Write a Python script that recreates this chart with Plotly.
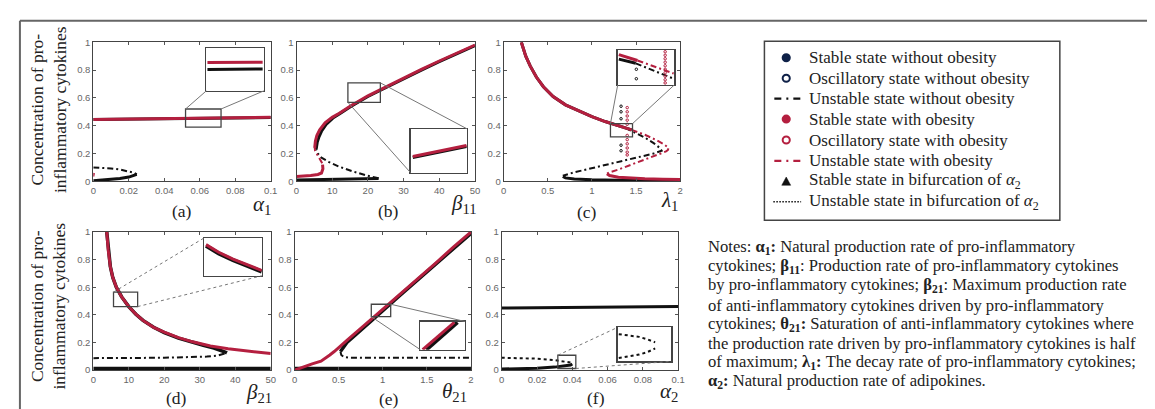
import plotly.graph_objects as go

W, H = 1155, 409
def px(x): return x / W
def py(y): return 1 - y / H

RED = '#b41f3f'
BLK = '#111111'
NAVY = '#0f2148'
SERIF = 'Liberation Serif'
SANS = 'Liberation Sans'
DASHDOT = '6px,3px,2px,3px'

# ---------------- data ----------------
# (a) alpha_1
a_x_full = [0, 0.02, 0.04, 0.06, 0.08, 0.1]
a_red_stable = [0.445, 0.448, 0.451, 0.454, 0.457, 0.46]
a_blk_stable_hi = [0.444, 0.447, 0.450, 0.453, 0.456, 0.459]
a_x_fold = [0, 0.005, 0.01, 0.015, 0.02, 0.023, 0.0245]
a_blk_stable_lo = [0.004, 0.008, 0.014, 0.021, 0.031, 0.04, 0.05]
a_blk_unstable = [0.1, 0.098, 0.093, 0.085, 0.073, 0.062, 0.05]
a_red_unst_x = [0, 0.0004]
a_red_unst_y = [0.035, 0.06]

# (b) beta_11
b_red_lo_x = [0, 2, 4, 6, 7, 7.4, 7.3]
b_red_lo_y = [0.035, 0.038, 0.042, 0.05, 0.06, 0.09, 0.12]
b_red_un_x = [7.2, 6.5, 6.0, 5.5, 5.2, 5.1]
b_red_un_y = [0.13, 0.16, 0.18, 0.20, 0.22, 0.24]
b_red_hi_x = [5.1, 5.3, 5.7, 6.5, 8, 10, 12, 15, 20, 25, 30, 35, 40, 45, 50]
b_red_hi_y = [0.24, 0.29, 0.33, 0.37, 0.42, 0.46, 0.49, 0.54, 0.615, 0.68, 0.745, 0.805, 0.865, 0.92, 0.98]
b_blk_lo_x = [0, 5, 10, 15, 20, 23]
b_blk_lo_y = [0.01, 0.012, 0.014, 0.016, 0.018, 0.02]
b_blk_un_x = [23, 20, 16, 12, 9, 7, 6, 5.5]
b_blk_un_y = [0.022, 0.04, 0.07, 0.105, 0.14, 0.17, 0.2, 0.23]
b_blk_hi_x = [5.5, 5.8, 6.3, 7, 8.3, 10.2, 12, 15, 20, 25, 30, 35, 40, 45, 50]
b_blk_hi_y = [0.23, 0.28, 0.32, 0.36, 0.41, 0.455, 0.485, 0.535, 0.61, 0.675, 0.74, 0.80, 0.86, 0.915, 0.975]

# (c) lambda_1
c_hi_x = [0.2, 0.25, 0.3, 0.37, 0.45, 0.56, 0.7, 0.85, 1.0, 1.15, 1.3, 1.38, 1.45]
c_hi_y = [1.0, 0.9, 0.83, 0.75, 0.68, 0.61, 0.55, 0.505, 0.465, 0.43, 0.40, 0.385, 0.37]
c_red_un_x = [1.45, 1.6, 1.72, 1.82, 1.87, 1.86, 1.84, 1.7, 1.5, 1.3, 1.2, 1.17]
c_red_un_y = [0.37, 0.335, 0.30, 0.265, 0.24, 0.225, 0.215, 0.18, 0.13, 0.085, 0.065, 0.055]
c_red_lo_x = [1.17, 1.2, 1.3, 1.45, 1.6, 1.8, 2.0]
c_red_lo_y = [0.055, 0.042, 0.03, 0.022, 0.018, 0.015, 0.013]
c_blk_un_x = [1.38, 1.5, 1.6, 1.7, 1.77, 1.79, 1.7, 1.5, 1.3, 1.0, 0.8, 0.67]
c_blk_un_y = [0.385, 0.35, 0.315, 0.275, 0.24, 0.22, 0.2, 0.17, 0.14, 0.095, 0.065, 0.04]
c_blk_lo_x = [0.67, 0.7, 0.8, 1.0, 1.3, 1.6, 2.0]
c_blk_lo_y = [0.035, 0.025, 0.017, 0.011, 0.008, 0.006, 0.005]
c_blk_osc_x = [1.33, 1.33, 1.33, 1.33, 1.33]
c_blk_osc_y = [0.54, 0.50, 0.45, 0.26, 0.22]
c_red_osc_x = [1.4, 1.4, 1.4, 1.4, 1.4, 1.4, 1.4, 1.4, 1.4, 1.4, 1.4]
c_red_osc_y = [0.53, 0.50, 0.47, 0.44, 0.41, 0.33, 0.30, 0.27, 0.24, 0.21, 0.19]

# (d) beta_21
d_red_x = [3.8, 4.2, 4.8, 5.5, 6.5, 8, 10, 12, 14, 17, 20, 24, 28, 33, 38, 44, 50]
d_red_y = [1.0, 0.87, 0.75, 0.67, 0.6, 0.53, 0.46, 0.405, 0.36, 0.31, 0.275, 0.235, 0.205, 0.175, 0.155, 0.135, 0.12]
d_blk_hi_x = [3.8, 4.2, 4.8, 5.5, 6.5, 8, 10, 12, 14, 17, 20, 24, 28, 31, 34, 36, 37.2, 37]
d_blk_hi_y = [1.0, 0.87, 0.75, 0.67, 0.6, 0.53, 0.46, 0.405, 0.36, 0.31, 0.272, 0.232, 0.2, 0.18, 0.16, 0.145, 0.13, 0.12]
d_blk_un_x = [37, 35, 32, 28, 20, 10, 0]
d_blk_un_y = [0.12, 0.105, 0.098, 0.094, 0.09, 0.088, 0.087]
d_blk_lo_x = [0, 10, 20, 30, 40, 50]
d_blk_lo_y = [0.01, 0.01, 0.01, 0.01, 0.01, 0.01]

# (e) theta_21
e_red_x = [0, 0.1, 0.2, 0.3, 0.35, 0.4, 0.45, 0.5, 0.6, 0.8, 1.0, 1.2, 1.4, 1.6, 1.8, 2.0]
e_red_y = [0, 0.025, 0.045, 0.065, 0.085, 0.11, 0.135, 0.165, 0.22, 0.33, 0.44, 0.555, 0.665, 0.775, 0.89, 1.0]
e_blk_hi_x = [0.52, 0.55, 0.6, 0.7, 0.8, 1.0, 1.2, 1.4, 1.6, 1.8, 2.0]
e_blk_hi_y = [0.135, 0.16, 0.205, 0.26, 0.315, 0.43, 0.545, 0.655, 0.765, 0.88, 0.99]
e_blk_un_x = [0.52, 0.53, 0.56, 0.62, 0.8, 1.0, 1.5, 2.0]
e_blk_un_y = [0.135, 0.11, 0.095, 0.09, 0.089, 0.089, 0.089, 0.089]
e_blk_lo_x = [0, 0.5, 1.0, 1.5, 2.0]
e_blk_lo_y = [0.01, 0.01, 0.01, 0.01, 0.01]

# (f) alpha_2
f_top_x = [0, 0.05, 0.1]
f_top_y = [0.45, 0.455, 0.46]
f_fold_x = [0, 0.01, 0.02, 0.03, 0.035, 0.039, 0.04]
f_stable_lo = [0.008, 0.01, 0.014, 0.022, 0.028, 0.037, 0.045]
f_unstable = [0.09, 0.088, 0.083, 0.073, 0.065, 0.055, 0.045]

# inset contents (inset-normalised units)
ia_x = [0.02, 0.98]; ia_red = [0.66, 0.67]; ia_blk = [0.50, 0.51]
ib_x = [0.04, 0.99]; ib_red = [0.37, 0.62]; ib_blk = [0.345, 0.595]
ic_red_s_x = [0.02, 0.35]; ic_red_s_y = [0.87, 0.70]
ic_red_u_x = [0.35, 0.99]; ic_red_u_y = [0.70, 0.33]
ic_blk_s_x = [0.02, 0.32]; ic_blk_s_y = [0.74, 0.62]
ic_blk_u_x = [0.32, 0.99]; ic_blk_u_y = [0.62, 0.18]
ic_red_osc_x = [0.84, 0.84, 0.84, 0.84, 0.84, 0.84, 0.84, 0.84, 0.84, 0.84]
ic_red_osc_y = [0.95, 0.85, 0.75, 0.65, 0.55, 0.45, 0.35, 0.25, 0.15, 0.06]
ic_blk_osc_x = [0.33, 0.33]; ic_blk_osc_y = [0.45, 0.18]
id_x = [0.03, 0.25, 0.5, 0.75, 1.0]
id_red = [0.82, 0.62, 0.44, 0.28, 0.14]; id_blk = [0.79, 0.59, 0.41, 0.25, 0.11]
ie_red_x = [0.05, 0.76]; ie_blk_x = [0.13, 0.83]; ie_y = [0.0, 0.97]
if_x = [0.02, 0.2, 0.4, 0.55, 0.7]
if_up = [0.8, 0.77, 0.72, 0.65, 0.56]; if_lo = [0.1, 0.14, 0.2, 0.27, 0.38]

# ticks
y_ticks = [0, 0.2, 0.4, 0.6, 0.8, 1]
y_tick_text = ['0', '0.2', '0.4', '0.6', '0.8', '1']
t_alpha = [0, 0.02, 0.04, 0.06, 0.08, 0.1]
t_alpha_txt = ['0', '0.02', '0.04', '0.06', '0.08', '0.1']
t_beta = [0, 10, 20, 30, 40, 50]
t_beta_txt = ['0', '10', '20', '30', '40', '50']
t_two = [0, 0.5, 1, 1.5, 2]
t_two_txt = ['0', '0.5', '1', '1.5', '2']

# ---------------- layout geometry (pixels) ----------------
panels = [  # key, (x0, x1, ytop, ybot), xrange, ticks, ticktext
    ('a', (83, 262, 29, 172), [0, 0.1], t_alpha, t_alpha_txt),
    ('b', (288, 468, 29, 172), [0, 50], t_beta, t_beta_txt),
    ('c', (497, 675, 29, 172), [0, 2], t_two, t_two_txt),
    ('d', (83, 262, 224, 366), [0, 50], t_beta, t_beta_txt),
    ('e', (286, 464, 224, 366), [0, 2], t_two, t_two_txt),
    ('f', (495, 673, 224, 366), [0, 0.1], t_alpha, t_alpha_txt),
]
insets = [
    ('a', (197, 255, 35, 79)),
    ('b', (403, 460, 118, 163)),
    ('c', (612, 669, 37, 73)),
    ('d', (195, 253, 230, 269)),
    ('e', (413, 458, 316, 345)),
    ('f', (612, 666, 322, 357)),
]
zoom_rects = {  # data-space rectangles marked on main panels
    'a': [0.052, 0.072, 0.39, 0.52],
    'b': [14.4, 23.5, 0.568, 0.708],
    'c': [1.21, 1.46, 0.32, 0.415],
    'd': [5.7, 12.5, 0.46, 0.565],
    'e': [0.87, 1.09, 0.387, 0.477],
    'f': [0.0318, 0.042, 0.012, 0.108],
}

pid = {k: i + 1 for i, (k, *_rest) in enumerate(panels)}
iid = {k: i + 7 for i, (k, _b) in enumerate(insets)}
def ax(i):
    return ('x' if i == 1 else f'x{i}'), ('y' if i == 1 else f'y{i}')

fig = go.Figure()

def add(i, x, y, color=BLK, width=3, dash=None, mode='lines', marker=None):
    xa, ya = ax(i)
    line = dict(color=color, width=width)
    if dash:
        line['dash'] = dash
    tr = go.Scatter(x=x, y=y, mode=mode, line=line, xaxis=xa, yaxis=ya,
                    showlegend=False, hoverinfo='skip')
    if marker:
        tr.marker = marker
    fig.add_trace(tr)

OSC_BLK = dict(symbol='circle-open', size=2.5, color=BLK, line=dict(width=1))
OSC_RED = dict(symbol='circle-open', size=2.5, color=RED, line=dict(width=1))

# (a)
p = pid['a']
add(p, a_x_full, a_blk_stable_hi)
add(p, a_x_fold, a_blk_stable_lo)
add(p, a_x_fold, a_blk_unstable, width=2, dash=DASHDOT)
add(p, a_x_full, a_red_stable, color=RED)
add(p, a_red_unst_x, a_red_unst_y, color=RED, width=2)
# (b)
p = pid['b']
add(p, b_blk_lo_x, b_blk_lo_y)
add(p, b_blk_un_x, b_blk_un_y, width=2, dash=DASHDOT)
add(p, b_blk_hi_x, b_blk_hi_y)
add(p, b_red_lo_x, b_red_lo_y, color=RED)
add(p, b_red_un_x, b_red_un_y, color=RED, width=2, dash=DASHDOT)
add(p, b_red_hi_x, b_red_hi_y, color=RED)
# (c)
p = pid['c']
add(p, c_hi_x, c_hi_y)
add(p, c_blk_un_x, c_blk_un_y, width=2, dash=DASHDOT)
add(p, c_blk_lo_x, c_blk_lo_y)
add(p, c_hi_x, c_hi_y, color=RED)
add(p, c_red_un_x, c_red_un_y, color=RED, width=2, dash=DASHDOT)
add(p, c_red_lo_x, c_red_lo_y, color=RED)
add(p, c_blk_osc_x, c_blk_osc_y, mode='markers', marker=OSC_BLK)
add(p, c_red_osc_x, c_red_osc_y, mode='markers', marker=OSC_RED)
# (d)
p = pid['d']
add(p, d_blk_lo_x, d_blk_lo_y, width=4)
add(p, d_blk_un_x, d_blk_un_y, width=2, dash=DASHDOT)
add(p, d_blk_hi_x, d_blk_hi_y, width=3.5)
add(p, d_red_x, d_red_y, color=RED)
# (e)
p = pid['e']
add(p, e_blk_lo_x, e_blk_lo_y, width=4)
add(p, e_blk_un_x, e_blk_un_y, width=2, dash=DASHDOT)
add(p, e_blk_hi_x, e_blk_hi_y, width=3.5)
add(p, e_red_x, e_red_y, color=RED)
# (f)
p = pid['f']
add(p, f_top_x, f_top_y, width=3)
add(p, f_fold_x, f_stable_lo, width=3)
add(p, f_fold_x, f_unstable, width=2, dash='dot')

# insets
p = iid['a']
add(p, ia_x, ia_blk)
add(p, ia_x, ia_red, color=RED)
p = iid['b']
add(p, ib_x, ib_blk)
add(p, ib_x, ib_red, color=RED)
p = iid['c']
add(p, ic_blk_s_x, ic_blk_s_y)
add(p, ic_blk_u_x, ic_blk_u_y, width=2, dash=DASHDOT)
add(p, ic_red_s_x, ic_red_s_y, color=RED)
add(p, ic_red_u_x, ic_red_u_y, color=RED, width=2, dash=DASHDOT)
add(p, ic_red_osc_x, ic_red_osc_y, mode='markers', marker=OSC_RED)
add(p, ic_blk_osc_x, ic_blk_osc_y, mode='markers', marker=OSC_BLK)
p = iid['d']
add(p, id_x, id_blk, width=4)
add(p, id_x, id_red, color=RED, width=3)
p = iid['e']
add(p, ie_blk_x, ie_y, width=4)
add(p, ie_red_x, ie_y, color=RED, width=3)
p = iid['f']
add(p, if_x, if_up, width=2, dash='dot')
add(p, if_x, if_lo, width=2, dash='dot')

# ---------------- axes ----------------
layout = dict(width=W, height=H, margin=dict(l=0, r=0, t=0, b=0),
              paper_bgcolor='white', plot_bgcolor='white', showlegend=False)
common = dict(showline=True, linecolor='#444', linewidth=1, mirror='ticks',
              ticks='inside', ticklen=3, tickwidth=1, tickcolor='#555',
              showgrid=False, zeroline=False, fixedrange=True,
              tickfont=dict(family=SANS, size=9.5, color='#666'))
for key, (x0, x1, yt, yb), xr, tv, tt in panels:
    i = pid[key]
    xa, ya = ax(i)
    layout['xaxis' if i == 1 else f'xaxis{i}'] = dict(
        common, domain=[px(x0), px(x1)], range=xr, anchor=ya,
        tickvals=tv, ticktext=tt)
    layout['yaxis' if i == 1 else f'yaxis{i}'] = dict(
        common, domain=[py(yb), py(yt)], range=[0, 1], anchor=xa,
        tickvals=y_ticks, ticktext=y_tick_text)
ins_common = dict(showline=True, linecolor='#444', linewidth=1.3, mirror=True,
                  ticks='', showticklabels=False, showgrid=False, zeroline=False,
                  range=[0, 1], fixedrange=True)
for key, (x0, x1, yt, yb) in insets:
    i = iid[key]
    xa, ya = ax(i)
    layout[f'xaxis{i}'] = dict(ins_common, domain=[px(x0), px(x1)], anchor=ya)
    layout[f'yaxis{i}'] = dict(ins_common, domain=[py(yb), py(yt)], anchor=xa)

# ---------------- shapes ----------------
shapes = []
def pline(x0, y0, x1, y1, color='#555', width=1, dash=None):
    d = dict(type='line', xref='paper', yref='paper', x0=px(x0), y0=py(y0),
             x1=px(x1), y1=py(y1), line=dict(color=color, width=width))
    if dash:
        d['line']['dash'] = dash
    shapes.append(d)

# outer frame
pline(9, 7, W, 7, color='#666', width=2)
pline(9, 7, 9, H, color='#666', width=2)

pan_geo = {k: (b, xr) for k, b, xr, _t, _tt in panels}
ins_geo = {k: b for k, b in insets}
def d2p(key, xv, yv):
    (x0, x1, yt, yb), xr = pan_geo[key]
    return (x0 + (xv - xr[0]) / (xr[1] - xr[0]) * (x1 - x0),
            yb - yv * (yb - yt))

for key, (rx0, rx1, ry0, ry1) in zoom_rects.items():
    i = pid[key]
    xa, ya = ax(i)
    shapes.append(dict(type='rect', xref=xa, yref=ya, x0=rx0, x1=rx1, y0=ry0, y1=ry1,
                       line=dict(color='#444', width=1.3)))

# connector lines: (panel, rect corner, inset corner, dash)
connectors = [
    ('a', ('x0', 'y1'), ('l', 'b'), None), ('a', ('x1', 'y1'), ('r', 'b'), None),
    ('b', ('x0', 'y0'), ('l', 'b'), None), ('b', ('x1', 'y1'), ('r', 't'), None),
    ('c', ('x0', 'y1'), ('l', 'b'), None), ('c', ('x1', 'y1'), ('r', 'b'), None),
    ('d', ('x0', 'y1'), ('l', 't'), 'dot'), ('d', ('x1', 'y0'), ('r', 'b'), 'dot'),
    ('e', ('x1', 'y1'), ('r', 't'), None), ('e', ('x0', 'y0'), ('l', 'b'), None),
    ('f', ('x0', 'y1'), ('l', 't'), 'dot'), ('f', ('x1', 'y0'), ('r', 'b'), 'dot'),
]
for key, (cx, cy), (ix, iy), dash in connectors:
    rx0, rx1, ry0, ry1 = zoom_rects[key]
    xv = rx0 if cx == 'x0' else rx1
    yv = ry0 if cy == 'y0' else ry1
    sx, sy = d2p(key, xv, yv)
    bx0, bx1, byt, byb = ins_geo[key]
    ex = bx0 if ix == 'l' else bx1
    ey = byt if iy == 't' else byb
    pline(sx, sy, ex, ey, color='#777', width=1, dash=dash)

# legend box & symbols
shapes.append(dict(type='rect', xref='paper', yref='paper', x0=px(760), x1=px(1058),
                   y0=py(212), y1=py(28), line=dict(color='#444', width=1.5)))
legend_rows = [45, 66, 87, 108, 129.5, 151, 172, 193]
legend_labels = [
    'Stable state without obesity',
    'Oscillatory state without obesity',
    'Unstable state without obesity',
    'Stable state with obesity',
    'Oscillatory state with obesity',
    'Unstable state with obesity',
    'Stable state in bifurcation of <i>α</i><sub>2</sub>',
    'Unstable state in bifurcation of <i>α</i><sub>2</sub>',
]
SX = 782
def circ(y, color, filled):
    r = 3.6
    shapes.append(dict(type='circle', xref='paper', yref='paper',
                       x0=px(SX - r), x1=px(SX + r), y0=py(y + r), y1=py(y - r),
                       line=dict(color=color, width=2),
                       fillcolor=color if filled else 'white'))
circ(legend_rows[0], NAVY, True)
circ(legend_rows[1], NAVY, False)
pline(770, legend_rows[2], 797, legend_rows[2], color=BLK, width=2.2, dash='7px,5px,2px,5px')
circ(legend_rows[3], RED, True)
circ(legend_rows[4], RED, False)
pline(770, legend_rows[5], 797, legend_rows[5], color=RED, width=2.2, dash='7px,5px,2px,5px')
ty = legend_rows[6]
shapes.append(dict(type='path', xref='paper', yref='paper',
                   path=f'M {px(SX-4.5)},{py(ty+4)} L {px(SX+4.5)},{py(ty+4)} L {px(SX)},{py(ty-4.5)} Z',
                   fillcolor=BLK, line=dict(color=BLK, width=0.5)))
pline(769, legend_rows[7], 797, legend_rows[7], color=BLK, width=1.5, dash='1.5px,1.5px')

layout['shapes'] = shapes

# ---------------- annotations ----------------
ann = []
def text(x, y, s, size=17.5, xanchor='center', yanchor='middle', angle=0,
         color='#222', family=SERIF, align='center'):
    ann.append(dict(xref='paper', yref='paper', x=px(x), y=py(y), text=s,
                    showarrow=False, xanchor=xanchor, yanchor=yanchor,
                    textangle=angle, align=align, borderpad=0,
                    font=dict(family=family, size=size, color=color)))

for i, lab in enumerate(legend_labels):
    text(804, legend_rows[i], lab, size=17, xanchor='left')

ytitle = 'Concentration of pro-<br>inflammatory cytokines'
text(38, 98, ytitle, size=17.5, angle=-90)
text(38, 300, ytitle, size=17.5, angle=-90)

for lab, x, y in [('(a)', 172, 202), ('(b)', 381, 202), ('(c)', 581, 203),
                  ('(d)', 167, 395), ('(e)', 381, 396), ('(f)', 590, 395)]:
    text(x, y, lab, size=17.5)

for lab, x, y in [('<i>α</i><sub>1</sub>', 253, 196), ('<i>β</i><sub>11</sub>', 457, 195),
                  ('<i>λ</i><sub>1</sub>', 664, 192), ('<i>β</i><sub>21</sub>', 250, 389),
                  ('<i>θ</i><sub>21</sub>', 447, 388), ('<i>α</i><sub>2</sub>', 664, 388)]:
    text(x, y, lab, size=21, color='#222')

notes = [
    'Notes: <b>α<sub>1</sub>:</b> Natural production rate of pro-inflammatory',
    'cytokines; <b>β<sub>11</sub></b>: Production rate of pro-inflammatory cytokines',
    'by pro-inflammatory cytokines; <b>β<sub>21</sub></b>: Maximum production rate',
    'of anti-inflammatory cytokines driven by pro-inflammatory',
    'cytokines; <b>θ<sub>21</sub>:</b> Saturation of anti-inflammatory cytokines where',
    'the production rate driven by pro-inflammatory cytokines is half',
    'of maximum; <b>λ<sub>1</sub>:</b> The decay rate of pro-inflammatory cytokines;',
    '<b>α<sub>2</sub>:</b> Natural production rate of adipokines.',
]
note_rows = [240, 259.7, 279.4, 299.1, 318.8, 338.5, 358.2, 377.9]
for s, y in zip(notes, note_rows):
    text(702, y, s, size=16.6, xanchor='left')

layout['annotations'] = ann
fig.update_layout(**layout)
fig.write_html('out.html', config={'displayModeBar': False, 'staticPlot': True})
